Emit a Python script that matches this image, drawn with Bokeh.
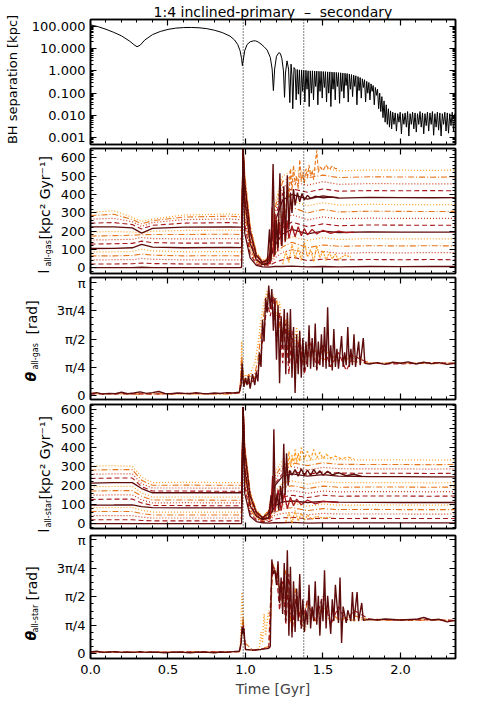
import math
from bokeh.plotting import figure
from bokeh.layouts import column, row
from bokeh.models import Range1d, FixedTicker, LinearAxis, LogAxis, Span, CustomJSTickFormatter
from bokeh.core.properties import value
from bokeh.embed import file_html
from bokeh.resources import INLINE

FONT = "DejaVu Sans"

# ---------------------------------------------------------------- texts / ticks
TITLE = "1:4 inclined-primary\u00a0\u00a0\u2013\u00a0\u00a0secondary"
X_LABEL = "Time [Gyr]"
X_TICKS = [0, 0.5, 1, 1.5, 2]
X_TICK_LABELS = ["0.0", "0.5", "1.0", "1.5", "2.0"]
EVENT_TIMES = [0.985, 1.376]
SEP_TICKS = [0.001, 0.01, 0.1, 1, 10, 100]
SEP_TICK_LABELS = ["0.001", "0.010", "0.100", "1.000", "10.000", "100.000"]
L_TICKS = [0, 100, 200, 300, 400, 500, 600]
L_TICK_LABELS = ["0", "100", "200", "300", "400", "500", "600"]
TH_TICK_LABELS = ["0", "\u03c0/4", "\u03c0/2", "3\u03c0/4", "\u03c0"]
SEP_LABEL = "BH separation [kpc]"
L_UNIT = "[kpc\u00b2 Gyr\u207b\u00b9]"
TH_UNIT = "[rad]"

# ---------------------------------------------------------------- BH separation [kpc]
BH_T_SMOOTH = [0.00, 0.05, 0.10, 0.15, 0.20, 0.25, 0.28, 0.30, 0.32, 0.35, 0.40, 0.45, 0.50, 0.55,
               0.60, 0.65, 0.70, 0.75, 0.80, 0.85, 0.90, 0.93, 0.95, 0.965, 0.975, 0.980, 0.985,
               0.995, 1.010, 1.030, 1.050, 1.065, 1.080, 1.100, 1.120, 1.140, 1.160, 1.172, 1.180,
               1.188, 1.200, 1.215, 1.225, 1.235, 1.245, 1.252, 1.258, 1.268, 1.278, 1.286, 1.294,
               1.300, 1.305, 1.313]
BH_SEP_SMOOTH = [115, 95, 73, 53, 37, 22, 15, 12, 14, 24, 42, 58, 72, 82,
                 87, 88, 85, 78, 66, 52, 36, 24, 15, 8, 3.5, 1.7, 2.8,
                 8, 15, 20, 22, 22, 20, 16, 12, 8.5, 4, 1.2, 0.13,
                 1.2, 4.5, 6.5, 6, 3.5, 1.0, 0.065, 0.8, 2.8, 1.2, 0.038, 2.0,
                 0.6, 0.02, 1.4]
BH_T_ORBIT = [1.320, 1.327, 1.334, 1.341, 1.348, 1.355, 1.362, 1.369, 1.376, 1.383,
              1.390, 1.397, 1.404, 1.411, 1.418, 1.425, 1.432, 1.439, 1.446, 1.453,
              1.460, 1.467, 1.474, 1.481, 1.488, 1.495, 1.502, 1.509, 1.516, 1.523,
              1.530, 1.537, 1.544, 1.551, 1.558, 1.565, 1.572, 1.579, 1.586, 1.593,
              1.600, 1.607, 1.614, 1.621, 1.628, 1.635, 1.642, 1.649, 1.656, 1.663,
              1.670, 1.677, 1.684, 1.691, 1.698, 1.705, 1.712, 1.719, 1.726, 1.733,
              1.740, 1.747, 1.754, 1.761, 1.768, 1.775, 1.782, 1.789, 1.796, 1.803,
              1.810, 1.817, 1.824, 1.831, 1.838, 1.845, 1.852, 1.859, 1.866, 1.873,
              1.880, 1.887, 1.894, 1.901, 1.908, 1.915, 1.922, 1.929, 1.936, 1.943,
              1.950]
BH_SEP_ORBIT = [1.2, 0.05, 1.15, 0.09, 1.1, 0.03, 1.1, 0.12, 1.05, 0.04,
                1.05, 0.15, 1.0, 0.025, 1.0, 0.1, 1.0, 0.05, 0.98, 0.2,
                0.97, 0.03, 0.95, 0.12, 0.95, 0.06, 0.93, 0.18, 0.92, 0.04,
                0.9, 0.1, 0.9, 0.025, 0.88, 0.15, 0.87, 0.05, 0.85, 0.2,
                0.83, 0.035, 0.82, 0.12, 0.8, 0.06, 0.78, 0.22, 0.76, 0.04,
                0.72, 0.15, 0.68, 0.07, 0.64, 0.2, 0.6, 0.03, 0.55, 0.13,
                0.5, 0.06, 0.44, 0.18, 0.4, 0.04, 0.34, 0.1, 0.3, 0.05,
                0.26, 0.12, 0.22, 0.03, 0.18, 0.08, 0.15, 0.02, 0.1, 0.015,
                0.07, 0.008, 0.045, 0.005, 0.03, 0.004, 0.02, 0.003, 0.016, 0.0025,
                0.014]
BH_T_TAIL = [1.958, 1.966, 1.974, 1.982, 1.990, 1.998, 2.006, 2.014, 2.022, 2.030,
             2.038, 2.046, 2.054, 2.062, 2.070, 2.078, 2.086, 2.094, 2.102, 2.110,
             2.118, 2.126, 2.134, 2.142, 2.150, 2.158, 2.166, 2.174, 2.182, 2.190,
             2.198, 2.206, 2.214, 2.222, 2.230, 2.238, 2.246, 2.254, 2.262, 2.270,
             2.278, 2.286, 2.294, 2.302, 2.310, 2.318, 2.326, 2.334, 2.342, 2.350]
BH_SEP_TAIL = [0.004, 0.013, 0.002, 0.012, 0.005, 0.014, 0.0015, 0.012, 0.004, 0.013,
               0.003, 0.015, 0.0012, 0.012, 0.004, 0.014, 0.0025, 0.013, 0.0018, 0.012,
               0.004, 0.015, 0.003, 0.013, 0.0015, 0.012, 0.0035, 0.014, 0.002, 0.013,
               0.004, 0.015, 0.0013, 0.012, 0.003, 0.014, 0.0022, 0.013, 0.0012, 0.012,
               0.004, 0.014, 0.002, 0.013, 0.0016, 0.012, 0.0035, 0.014, 0.002, 0.012]

# ---------------------------------------------------------------- specific angular momentum, 15 shells
T_PRE = [0.0, 0.15, 0.27, 0.33, 0.40, 0.60, 0.90, 0.965]
T_MID = [0.975, 0.985, 0.995, 1.03, 1.07, 1.11, 1.15, 1.19, 1.24]
T_POST = [1.30, 1.40, 1.50, 1.60, 1.80, 2.00, 2.20, 2.355]

GAS_PRE = [
    [2, 2, 2, 4, 2, 2, 2, 2],
    [22, 22, 23, 27, 24, 22, 22, 22],
    [44, 45, 45, 52, 47, 44, 44, 44],
    [66, 66, 68, 76, 70, 66, 67, 66],
    [88, 88, 90, 102, 93, 88, 89, 88],
    [106, 107, 110, 128, 114, 110, 112, 111],
    [130, 132, 134, 146, 138, 135, 136, 135],
    [152, 154, 156, 166, 160, 158, 160, 158],
    [174, 176, 178, 181, 182, 182, 184, 182],
    [196, 198, 196, 190, 200, 204, 206, 204],
    [224, 224, 218, 190, 215, 222, 224, 222],
    [244, 247, 236, 212, 232, 244, 247, 244],
    [266, 270, 252, 226, 247, 263, 267, 263],
    [285, 292, 264, 240, 257, 277, 282, 278],
    [302, 312, 276, 253, 266, 288, 294, 290],
]
GAS_MID = [
    [4, 560, 190, 55, 14, 6, 5, 8, 8],
    [24, 650, 240, 75, 22, 10, 12, 30, 45],
    [46, 650, 280, 90, 28, 14, 16, 55, 85],
    [68, 650, 310, 105, 32, 16, 20, 80, 115],
    [90, 650, 340, 118, 38, 18, 24, 100, 150],
    [113, 650, 370, 135, 44, 20, 28, 125, 185],
    [137, 650, 390, 148, 48, 22, 30, 150, 220],
    [160, 650, 410, 160, 52, 24, 34, 175, 255],
    [184, 650, 430, 172, 58, 26, 38, 200, 295],
    [205, 650, 445, 185, 62, 28, 40, 225, 330],
    [224, 650, 460, 196, 68, 30, 44, 250, 370],
    [245, 650, 475, 206, 72, 32, 48, 275, 405],
    [264, 650, 490, 216, 78, 34, 52, 300, 440],
    [279, 650, 505, 226, 82, 36, 56, 325, 470],
    [291, 650, 520, 236, 88, 40, 60, 350, 500],
]
GAS_POST = [
    [10, 6, 8, 6, 8, 7, 8, 8],
    [60, 40, 48, 44, 46, 45, 46, 45],
    [100, 75, 90, 80, 84, 82, 84, 83],
    [140, 110, 125, 118, 121, 120, 121, 120],
    [170, 150, 165, 155, 160, 158, 159, 158],
    [210, 185, 200, 193, 196, 195, 195, 195],
    [250, 225, 240, 230, 234, 233, 232, 233],
    [290, 262, 278, 268, 271, 270, 270, 270],
    [330, 300, 318, 305, 309, 308, 307, 308],
    [365, 338, 355, 342, 346, 345, 344, 345],
    [400, 375, 392, 380, 384, 383, 382, 383],
    [430, 412, 430, 418, 421, 420, 421, 420],
    [470, 450, 470, 455, 459, 458, 457, 458],
    [500, 490, 505, 492, 496, 495, 494, 495],
    [530, 525, 545, 528, 533, 532, 531, 533],
]
GAS_SPIKE_A_T = [1.10, 1.14, 1.155, 1.165, 1.178, 1.19, 1.20, 1.21, 1.222, 1.235, 1.247, 1.258, 1.270, 1.280,
                 1.290, 1.300, 1.310, 1.320, 1.335, 1.350, 1.365, 1.380, 1.400, 1.420, 1.450, 1.500, 1.550, 1.600]
GAS_SPIKE_A_V = [18, 22, 210, 40, 565, 70, 260, 110, 515, 120, 445, 150, 505, 210,
                 410, 300, 430, 340, 410, 360, 405, 370, 395, 378, 390, 382, 386, 383]
GAS_SPIKE_B_T = [1.13, 1.16, 1.172, 1.184, 1.196, 1.208, 1.22, 1.232, 1.244, 1.256, 1.268, 1.28, 1.30,
                 1.32, 1.34, 1.36, 1.38, 1.40, 1.43, 1.46, 1.50, 1.55, 1.60, 1.65, 1.70]
GAS_SPIKE_B_V = [20, 25, 330, 60, 280, 90, 250, 120, 310, 140, 260, 160, 230,
                 170, 225, 175, 215, 180, 210, 185, 205, 188, 200, 192, 195]
GAS_NOISE_HI_T = [1.26, 1.27, 1.28, 1.29, 1.30, 1.31, 1.32, 1.33, 1.34, 1.35, 1.36, 1.37, 1.38, 1.39, 1.40,
                  1.41, 1.42, 1.43, 1.44, 1.45, 1.46, 1.47, 1.48, 1.50, 1.52, 1.54, 1.56, 1.58, 1.60]
GAS_NOISE_HI_V = [300, 470, 380, 540, 420, 560, 450, 500, 430, 590, 470, 520, 460, 540, 490,
                  560, 500, 530, 480, 570, 640, 520, 550, 530, 560, 535, 555, 540, 545]
GAS_NOISE_LO_T = [1.24, 1.26, 1.28, 1.30, 1.32, 1.34, 1.36, 1.38, 1.40, 1.42, 1.44, 1.46, 1.48, 1.50,
                  1.52, 1.54, 1.56, 1.58, 1.60, 1.64, 1.68]
GAS_NOISE_LO_V = [20, 90, 30, 130, 50, 110, 40, 140, 60, 100, 35, 120, 55, 95,
                  40, 85, 50, 75, 45, 70, 60]

STAR_PRE = [
    [2, 2, 2, 2, 2, 2, 2, 2],
    [22, 22, 22, 18, 16, 16, 16, 16],
    [43, 43, 43, 36, 31, 31, 31, 31],
    [65, 65, 65, 54, 47, 47, 47, 47],
    [85, 86, 86, 72, 62, 62, 62, 62],
    [98, 99, 100, 90, 85, 84, 84, 84],
    [128, 130, 130, 110, 96, 96, 95, 95],
    [150, 152, 152, 126, 110, 111, 110, 110],
    [172, 174, 174, 145, 125, 125, 124, 124],
    [194, 196, 196, 162, 140, 141, 140, 140],
    [214, 216, 216, 185, 163, 163, 163, 163],
    [238, 240, 240, 195, 172, 172, 171, 171],
    [260, 262, 262, 210, 188, 188, 187, 187],
    [282, 284, 284, 228, 202, 203, 202, 202],
    [302, 305, 302, 245, 216, 218, 216, 216],
]
STAR_MID = [
    [2, 520, 160, 40, 12, 6, 4, 6, 6],
    [16, 610, 200, 55, 20, 12, 12, 25, 32],
    [31, 610, 230, 65, 25, 15, 18, 45, 55],
    [47, 610, 250, 75, 30, 18, 22, 60, 80],
    [62, 610, 270, 85, 35, 20, 28, 80, 100],
    [84, 610, 285, 95, 40, 22, 32, 95, 115],
    [95, 610, 300, 105, 45, 25, 38, 115, 140],
    [110, 610, 320, 115, 48, 26, 42, 130, 165],
    [124, 610, 340, 125, 52, 28, 48, 150, 190],
    [140, 610, 360, 135, 56, 30, 52, 170, 215],
    [163, 610, 380, 145, 60, 32, 56, 200, 250],
    [171, 610, 390, 150, 62, 33, 60, 210, 265],
    [187, 610, 400, 158, 66, 35, 64, 230, 290],
    [202, 610, 410, 165, 70, 36, 68, 250, 310],
    [216, 610, 420, 172, 74, 38, 72, 270, 335],
]
STAR_POST = [
    [8, 4, 5, 5, 5, 5, 5, 5],
    [35, 26, 30, 28, 29, 28, 28, 28],
    [60, 48, 55, 52, 52, 52, 51, 52],
    [85, 70, 80, 75, 76, 75, 75, 75],
    [110, 92, 104, 98, 99, 99, 98, 99],
    [120, 112, 118, 114, 113, 112, 112, 112],
    [150, 138, 150, 145, 146, 146, 145, 146],
    [175, 160, 172, 168, 169, 169, 168, 169],
    [200, 185, 198, 192, 193, 193, 192, 193],
    [225, 208, 222, 216, 216, 216, 215, 216],
    [262, 250, 258, 250, 248, 247, 246, 246],
    [275, 260, 272, 266, 265, 265, 264, 265],
    [300, 282, 296, 289, 288, 288, 287, 288],
    [320, 305, 320, 312, 311, 311, 310, 311],
    [345, 330, 345, 336, 335, 336, 334, 335],
]
STAR_SPIKE_A_T = [1.10, 1.15, 1.165, 1.175, 1.183, 1.192, 1.205, 1.215, 1.226, 1.237, 1.247, 1.256, 1.265,
                  1.275, 1.285, 1.30, 1.32, 1.34, 1.36, 1.38, 1.40, 1.42, 1.44, 1.46, 1.48, 1.50,
                  1.53, 1.56, 1.60, 1.65, 1.70, 1.75]
STAR_SPIKE_A_V = [28, 30, 150, 60, 495, 90, 160, 70, 200, 110, 420, 150, 370,
                  200, 280, 255, 285, 250, 288, 255, 282, 252, 285, 260, 278, 255,
                  275, 256, 268, 252, 260, 248]
STAR_SPIKE_B_T = [1.12, 1.16, 1.175, 1.19, 1.21, 1.23, 1.25, 1.27, 1.29, 1.31, 1.33, 1.36, 1.40, 1.45, 1.50, 1.60]
STAR_SPIKE_B_V = [25, 30, 250, 60, 180, 70, 160, 80, 140, 95, 130, 100, 125, 105, 118, 112]
STAR_NOISE_HI_T = [1.27, 1.28, 1.29, 1.30, 1.31, 1.32, 1.33, 1.34, 1.35, 1.36, 1.38, 1.40, 1.42, 1.44,
                   1.46, 1.48, 1.50, 1.52, 1.55, 1.58, 1.62, 1.66, 1.70]
STAR_NOISE_HI_V = [250, 380, 300, 360, 310, 390, 320, 370, 330, 400, 340, 380, 335, 390,
                   345, 375, 340, 365, 345, 355, 340, 350, 340]
STAR_NOISE_LO_T = [1.26, 1.28, 1.30, 1.32, 1.34, 1.36, 1.38, 1.40, 1.43, 1.46, 1.50, 1.55]
STAR_NOISE_LO_V = [10, 60, 5, 70, 15, 55, 20, 45, 25, 40, 30, 35]

# ---------------------------------------------------------------- misalignment angles [rad]
TH_PRE_T = [0.00, 0.04, 0.08, 0.12, 0.16, 0.20, 0.24, 0.28, 0.32, 0.36, 0.40, 0.44, 0.48,
            0.52, 0.56, 0.60, 0.64, 0.68, 0.72, 0.76, 0.80, 0.84, 0.88, 0.92, 0.96]

TH_GAS_DARK_T = TH_PRE_T + [
    0.972, 0.978, 0.984, 0.99, 1.00, 1.01, 1.02, 1.03, 1.045, 1.06, 1.07, 1.08,
    1.09, 1.10, 1.11, 1.12, 1.13, 1.14, 1.15, 1.16, 1.17, 1.18, 1.19,
    1.20, 1.21, 1.22, 1.23, 1.24, 1.25, 1.26, 1.27, 1.28, 1.29,
    1.30, 1.31, 1.32, 1.33, 1.34, 1.35, 1.36, 1.37, 1.38, 1.39,
    1.40, 1.41, 1.42, 1.43, 1.44, 1.45, 1.46, 1.47, 1.48, 1.49,
    1.50, 1.51, 1.52, 1.53, 1.54, 1.55, 1.56, 1.57, 1.58, 1.59, 1.60,
    1.62, 1.63, 1.64, 1.65, 1.66, 1.67, 1.68, 1.69, 1.70, 1.71, 1.73, 1.74, 1.76, 1.77,
    1.80, 1.85, 1.90, 1.95, 2.00, 2.05, 2.10, 2.15, 2.20, 2.25, 2.30, 2.355]
TH_GAS_DARK_V = [
    0.06, 0.09, 0.05, 0.07, 0.06, 0.10, 0.06, 0.08, 0.11, 0.07, 0.09, 0.12, 0.07,
    0.06, 0.08, 0.07, 0.06, 0.09, 0.07, 0.06, 0.08, 0.07, 0.09, 0.08, 0.10,
    0.3, 0.9, 0.45, 0.25, 0.5, 0.3, 0.55, 0.2, 0.6, 0.3, 0.65, 0.4,
    1.2, 0.8, 2.1, 1.5, 2.7, 2.3, 3.05, 2.4, 2.95, 1.8, 2.7,
    1.0, 2.5, 0.35, 2.2, 1.3, 2.4, 0.6, 2.3, 0.9, 2.4,
    0.5, 1.9, 0.08, 1.7, 0.6, 1.8, 0.5, 1.6, 0.7, 1.5,
    0.8, 1.95, 0.75, 1.6, 0.8, 2.0, 0.7, 1.5, 0.85, 1.7,
    0.8, 1.9, 0.75, 2.45, 0.8, 1.4, 0.7, 1.85, 0.8, 1.3, 0.75,
    1.65, 0.8, 1.2, 0.85, 1.9, 0.8, 1.3, 0.85, 1.7, 0.8, 1.5, 0.85, 1.6, 0.9,
    0.88, 0.92, 0.87, 0.93, 0.9, 0.94, 0.88, 0.93, 0.89, 0.92, 0.87, 0.9]
TH_GAS_RED_T = [0.0, 0.2, 0.4, 0.6, 0.8, 0.96, 0.975, 0.985, 1.0, 1.03, 1.06, 1.09,
                1.12, 1.14, 1.16, 1.18, 1.2, 1.22, 1.24, 1.26, 1.28, 1.3, 1.32,
                1.35, 1.38, 1.42, 1.46, 1.5, 1.55, 1.6, 1.65, 1.7, 1.8, 2.0, 2.2, 2.355]
TH_GAS_RED_V = [0.05, 0.06, 0.05, 0.07, 0.06, 0.08, 0.6, 0.35, 0.45, 0.3, 0.5, 0.9,
                1.8, 2.6, 2.2, 2.75, 1.5, 2.3, 0.9, 2.0, 0.6, 1.8, 0.7,
                1.6, 0.6, 1.5, 0.75, 1.4, 0.8, 1.2, 0.7, 1.1, 0.9, 0.88, 0.92, 0.9]
TH_GAS_ORANGE_T = [0, 0.3, 0.6, 0.9, 0.96, 0.97, 0.975, 0.98, 0.99, 1.0,
                   1.02, 1.04, 1.06, 1.08, 1.1, 1.12, 1.14, 1.16, 1.18, 1.2, 1.22, 1.24,
                   1.27, 1.3, 1.33, 1.36, 1.4, 1.45, 1.5, 1.6, 1.7, 1.8, 2.0, 2.2, 2.355]
TH_GAS_ORANGE_V = [0.05, 0.06, 0.05, 0.06, 0.07, 0.5, 1.5, 0.8, 0.4, 0.6,
                   0.35, 0.7, 0.9, 1.4, 2.1, 2.6, 2.9, 2.5, 2.8, 2.2, 2.6, 1.5,
                   2.2, 1.0, 1.9, 0.9, 1.4, 1.0, 1.3, 0.95, 1.1, 0.92, 0.9, 0.92, 0.9]
TH_GAS_DASHDOT_T = [0.0, 0.3, 0.6, 0.9, 0.965, 0.975, 0.985, 1.0, 1.02, 1.05, 1.08,
                    1.1, 1.12, 1.14, 1.16, 1.18, 1.2, 1.23, 1.26, 1.3, 1.34, 1.38, 1.44, 1.5,
                    1.6, 1.7, 1.8, 2.0, 2.2, 2.355]
TH_GAS_DASHDOT_V = [0.07, 0.05, 0.06, 0.05, 0.1, 1.1, 0.6, 0.35, 0.6, 0.4, 1.0,
                    1.7, 2.3, 2.8, 2.6, 2.2, 2.7, 1.6, 2.1, 1.2, 1.5, 0.9, 1.3, 1.0,
                    1.1, 0.95, 0.9, 0.91, 0.89, 0.9]

TH_STAR_DARK_T = TH_PRE_T + [
    0.972, 0.978, 0.984, 0.99, 0.996, 1.00, 1.05, 1.10, 1.15, 1.16, 1.165,
    1.17, 1.18, 1.19, 1.20, 1.21, 1.22, 1.23, 1.24, 1.25, 1.26, 1.27, 1.28, 1.29,
    1.30, 1.31, 1.32, 1.33, 1.34, 1.35, 1.36, 1.37, 1.38, 1.39,
    1.40, 1.41, 1.42, 1.43, 1.44, 1.45, 1.46, 1.47, 1.48, 1.49,
    1.50, 1.51, 1.52, 1.53,
    1.55, 1.56, 1.57, 1.58, 1.60, 1.61, 1.62, 1.63, 1.65, 1.66, 1.68, 1.69, 1.70, 1.72, 1.73, 1.75, 1.76,
    1.80, 1.85, 1.90, 2.00, 2.10, 2.15, 2.20, 2.25, 2.30, 2.355]
TH_STAR_DARK_V = [
    0.05, 0.07, 0.04, 0.05, 0.06, 0.04, 0.05, 0.04, 0.06, 0.04, 0.05, 0.04, 0.03,
    0.04, 0.05, 0.04, 0.03, 0.04, 0.05, 0.04, 0.03, 0.05, 0.04, 0.06, 0.07,
    0.3, 0.75, 0.55, 0.7, 0.3, 0.12, 0.1, 0.12, 0.15, 0.2, 1.5,
    2.6, 2.2, 2.3, 1.9, 2.55, 1.4, 2.1, 1.1, 2.5, 0.9, 2.85, 0.5, 2.4,
    0.45, 2.0, 0.6, 1.8, 0.9, 2.2, 0.7, 1.5, 0.6, 1.2,
    0.8, 1.9, 0.7, 1.3, 0.9, 2.0, 0.8, 1.6, 0.5, 1.5,
    0.9, 2.3, 0.7, 1.6,
    0.55, 1.5, 0.9, 1.9, 0.85, 2.1, 0.3, 1.3, 0.85, 1.2, 0.9, 1.7, 0.9, 1.7, 0.9, 1.4, 0.92,
    0.95, 0.93, 0.96, 0.93, 0.95, 1.0, 0.93, 0.95, 0.88, 0.92]
TH_STAR_RED_T = [0.0, 0.3, 0.6, 0.9, 0.965, 0.975, 0.985, 0.995, 1.0, 1.05, 1.1, 1.15, 1.165,
                 1.18, 1.2, 1.22, 1.24, 1.26, 1.28, 1.3, 1.33, 1.36, 1.4, 1.45, 1.5, 1.55, 1.6,
                 1.65, 1.7, 1.8, 2.0, 2.2, 2.355]
TH_STAR_RED_V = [0.05, 0.04, 0.05, 0.05, 0.06, 0.5, 0.8, 0.4, 0.12, 0.1, 0.12, 0.18, 1.8,
                 2.4, 2.2, 1.2, 2.0, 0.8, 2.2, 0.6, 1.7, 0.7, 1.5, 0.9, 1.6, 0.8, 1.3,
                 0.9, 1.2, 0.95, 0.93, 0.94, 0.92]
TH_STAR_ORANGE_T = [0.0, 0.3, 0.6, 0.9, 0.965, 0.972, 0.978, 0.985, 0.995, 1.0, 1.05, 1.09,
                    1.1, 1.11, 1.12, 1.13, 1.14, 1.15, 1.16, 1.17, 1.19, 1.21, 1.24, 1.27, 1.3,
                    1.34, 1.38, 1.42, 1.46, 1.5, 1.6, 1.7, 1.8, 2.0, 2.2, 2.355]
TH_STAR_ORANGE_V = [0.04, 0.05, 0.04, 0.05, 0.06, 1.0, 1.7, 0.9, 0.3, 0.12, 0.1, 0.15,
                    0.6, 0.3, 1.1, 0.5, 0.9, 1.2, 0.8, 2.2, 2.35, 2.0, 1.3, 1.9, 0.7,
                    1.3, 0.6, 1.1, 0.9, 1.0, 0.95, 0.93, 0.94, 0.92, 0.93, 0.92]
TH_STAR_DASHDOT_T = [0.0, 0.3, 0.6, 0.9, 0.965, 0.975, 0.985, 0.995, 1.05, 1.1, 1.15, 1.165, 1.175,
                     1.19, 1.21, 1.23, 1.26, 1.29, 1.32, 1.36, 1.4, 1.45, 1.5,
                     1.6, 1.7, 1.8, 2.0, 2.2, 2.355]
TH_STAR_DASHDOT_V = [0.05, 0.04, 0.05, 0.05, 0.07, 0.6, 1.0, 0.3, 0.1, 0.13, 0.2, 1.2, 2.5,
                     2.3, 2.0, 1.6, 2.3, 0.9, 1.8, 0.8, 1.4, 0.9, 1.3,
                     0.95, 1.05, 0.93, 0.92, 0.93, 0.91]

# ---------------------------------------------------------------- styling
C_DARK, C_RED, C_REDOR, C_ORDASH, C_ORANGE = "#5e0b0b", "#a8171b", "#cf3b1c", "#e8761c", "#ff9d22"
SHELL_STYLES = [(C_DARK, "solid", 1.3), (C_RED, "5 3", 1.1), (C_REDOR, "1 2", 1.2),
                (C_ORDASH, "6 2 1 2", 1.1), (C_ORANGE, "1 2", 1.2)]

FW = 365          # frame width of every panel
RIGHT = 24        # right border -> frame right edge at x = 455
XR = Range1d(0.0, 2.355)
X_MINOR = [k / 10 for k in range(0, 24)]


def style_axis(ax):
    ax.axis_line_color = "black"
    ax.axis_line_width = 1.6
    ax.major_tick_line_color = "black"
    ax.major_tick_line_width = 1.2
    ax.minor_tick_line_color = "black"
    ax.minor_tick_line_width = 1
    ax.major_tick_in = 6
    ax.major_tick_out = 0
    ax.minor_tick_in = 3
    ax.minor_tick_out = 0
    ax.major_label_text_font = FONT
    ax.major_label_text_font_size = "13px"
    ax.major_label_text_color = "black"


def hide_labels(ax):
    ax.formatter = CustomJSTickFormatter(code="return ''")
    ax.major_label_text_font_size = "0px"
    ax.major_label_standoff = 0


def panel(fh, y0, y1, yticks, yminor, ylabels, left, log=False, top=2, bottom=2):
    opts = dict(frame_width=FW, frame_height=fh, x_range=XR, y_range=Range1d(y0, y1),
                output_backend="svg", toolbar_location=None,
                min_border_left=left, min_border_right=RIGHT, min_border_top=top,
                min_border_bottom=bottom,
                background_fill_color="white", border_fill_color="white")
    if log:
        opts["y_axis_type"] = "log"
    p = figure(**opts)
    p.grid.visible = False
    p.outline_line_color = "black"
    p.outline_line_width = 1.5
    xt = FixedTicker(ticks=X_TICKS, minor_ticks=X_MINOR)
    yt = FixedTicker(ticks=yticks, minor_ticks=yminor)
    bax = p.below[0]
    lax = p.left[0]
    bax.ticker = xt
    lax.ticker = yt
    style_axis(bax)
    style_axis(lax)
    lax.major_label_overrides = dict(zip(yticks, ylabels))
    lax.major_label_standoff = 5
    hide_labels(bax)
    rax = (LogAxis if log else LinearAxis)(ticker=yt)
    tax = LinearAxis(ticker=xt)
    for ax in (rax, tax):
        style_axis(ax)
        hide_labels(ax)
    p.add_layout(rax, "right")
    p.add_layout(tax, "above")
    for t in EVENT_TIMES:
        p.add_layout(Span(location=t, dimension="height", line_color="black",
                          line_dash="1 2", line_width=1))
    return p


def text_fig(w, h):
    """A blank figure whose data space is its own pixel grid, used for the y-axis titles."""
    f = figure(frame_width=w, frame_height=h, x_range=Range1d(0, w), y_range=Range1d(0, h),
               output_backend="svg", toolbar_location=None, min_border=0,
               x_axis_location=None, y_axis_location=None,
               background_fill_color="white", border_fill_color="white")
    f.grid.visible = False
    f.outline_line_color = None
    return f


def put_text(f, x, y, txt, size="14px", style="normal", align="left", angle=math.pi / 2):
    f.text(x=[x], y=[y], text=[txt], angle=angle, text_font=value(FONT),
           text_font_size=value(size), text_font_style=value(style),
           text_align=value(align), text_baseline=value("middle"), text_color="black")


def draw_shells(p, pre, mid, post):
    for s in (4, 3, 2, 1, 0):
        color, dash, width = SHELL_STYLES[s]
        for i in range(len(pre)):
            if i % 5 != s:
                continue
            p.line(T_PRE + T_MID + T_POST, pre[i] + mid[i] + post[i],
                   line_color=color, line_dash=dash, line_width=width)


# ---------------------------------------------------------------- panel 1: BH separation (+ title)
sep_minor = [m * 10 ** e for e in range(-4, 3) for m in range(2, 10)]
p1 = panel(125, 0.0005, 200, SEP_TICKS, sep_minor, SEP_TICK_LABELS, left=64, log=True, top=17)
p1.line(BH_T_SMOOTH + BH_T_ORBIT + BH_T_TAIL, BH_SEP_SMOOTH + BH_SEP_ORBIT + BH_SEP_TAIL,
        line_color="black", line_width=1)
tax1 = p1.above[0]
tax1.axis_label = TITLE
tax1.axis_label_text_font = FONT
tax1.axis_label_text_font_size = "14px"
tax1.axis_label_text_font_style = "normal"
tax1.axis_label_text_color = "black"
tax1.axis_label_standoff = 0
lab1 = text_fig(26, 144)
put_text(lab1, 12, 65, SEP_LABEL, size="13px", align="center")

# ---------------------------------------------------------------- panel 2: l gas
l_minor = list(range(-20, 660, 20))
p2 = panel(125, -30, 650, L_TICKS, l_minor, L_TICK_LABELS, left=34)
draw_shells(p2, GAS_PRE, GAS_MID, GAS_POST)
p2.line(GAS_NOISE_HI_T, GAS_NOISE_HI_V, line_color=C_ORDASH, line_dash="4 2", line_width=1.1)
p2.line(GAS_NOISE_LO_T, GAS_NOISE_LO_V, line_color=C_ORANGE, line_dash="2 1", line_width=1.2)
p2.line(GAS_SPIKE_B_T, GAS_SPIKE_B_V, line_color=C_RED, line_width=1.3)
p2.line(GAS_SPIKE_A_T, GAS_SPIKE_A_V, line_color=C_DARK, line_width=1.4)
lab2 = text_fig(56, 129)
put_text(lab2, 43, 4, "l")
put_text(lab2, 48, 11, "all-gas", size="8px")
put_text(lab2, 44, 38, L_UNIT)

# ---------------------------------------------------------------- panel 3: theta gas
th_ticks = [k * math.pi / 4 for k in range(5)]
th_minor = [k * math.pi / 16 for k in range(17)]
p3 = panel(122, -0.1, 3.27, th_ticks, th_minor, TH_TICK_LABELS, left=46, top=2, bottom=3)
p3.line(TH_GAS_ORANGE_T, TH_GAS_ORANGE_V, line_color=C_ORANGE, line_dash="1 2", line_width=1.4)
p3.line(TH_GAS_DASHDOT_T, TH_GAS_DASHDOT_V, line_color=C_ORDASH, line_dash="6 2 1 2", line_width=1.2)
p3.line(TH_GAS_RED_T, TH_GAS_RED_V, line_color=C_RED, line_dash="5 3", line_width=1.2)
p3.line(TH_GAS_DARK_T, TH_GAS_DARK_V, line_color=C_DARK, line_width=1.4)
lab3 = text_fig(44, 127)
put_text(lab3, 30, 23, "\u03b8", style="bold italic")
put_text(lab3, 35, 35, "all-gas", size="8px")
put_text(lab3, 31, 70, TH_UNIT)

# ---------------------------------------------------------------- panel 4: l star
p4 = panel(124, -24, 625, L_TICKS, l_minor, L_TICK_LABELS, left=34, top=2, bottom=4)
draw_shells(p4, STAR_PRE, STAR_MID, STAR_POST)
p4.line(STAR_NOISE_HI_T, STAR_NOISE_HI_V, line_color=C_ORANGE, line_dash="3 2", line_width=1.2)
p4.line(STAR_NOISE_LO_T, STAR_NOISE_LO_V, line_color=C_ORANGE, line_dash="2 1", line_width=1.2)
p4.line(STAR_SPIKE_B_T, STAR_SPIKE_B_V, line_color=C_RED, line_width=1.3)
p4.line(STAR_SPIKE_A_T, STAR_SPIKE_A_V, line_color=C_DARK, line_width=1.4)
lab4 = text_fig(56, 130)
put_text(lab4, 43, 2, "l")
put_text(lab4, 48, 7, "all-star", size="8px")
put_text(lab4, 44, 35, L_UNIT)

# ---------------------------------------------------------------- panel 5: theta star
p5 = panel(123, -0.13, 3.26, th_ticks, th_minor, TH_TICK_LABELS, left=46, top=3, bottom=45)
p5.line(TH_STAR_ORANGE_T, TH_STAR_ORANGE_V, line_color=C_ORANGE, line_dash="1 2", line_width=1.4)
p5.line(TH_STAR_DASHDOT_T, TH_STAR_DASHDOT_V, line_color=C_ORDASH, line_dash="6 2 1 2", line_width=1.2)
p5.line(TH_STAR_RED_T, TH_STAR_RED_V, line_color=C_RED, line_dash="5 3", line_width=1.2)
p5.line(TH_STAR_DARK_T, TH_STAR_DARK_V, line_color=C_DARK, line_width=1.4)
lab5 = text_fig(44, 171)
put_text(lab5, 30, 66, "\u03b8", style="bold italic")
put_text(lab5, 35, 74, "all-star", size="8px")
put_text(lab5, 31, 106, TH_UNIT)

bax = p5.below[0]
bax.formatter = CustomJSTickFormatter(code="return tick.toFixed(1)")
bax.major_label_overrides = dict(zip(X_TICKS, X_TICK_LABELS))
bax.major_label_text_font_size = "13px"
bax.major_label_standoff = 6
bax.axis_label = X_LABEL
bax.axis_label_text_font = FONT
bax.axis_label_text_font_size = "14px"
bax.axis_label_text_font_style = "normal"
bax.axis_label_standoff = 4

layout = column(
    row(lab1, column(p1)),
    row(lab2, p2),
    row(lab3, p3),
    row(lab4, p4),
    row(lab5, p5),
)
open("out.html", "w").write(file_html(layout, INLINE, title="BH separation and misalignment"))
